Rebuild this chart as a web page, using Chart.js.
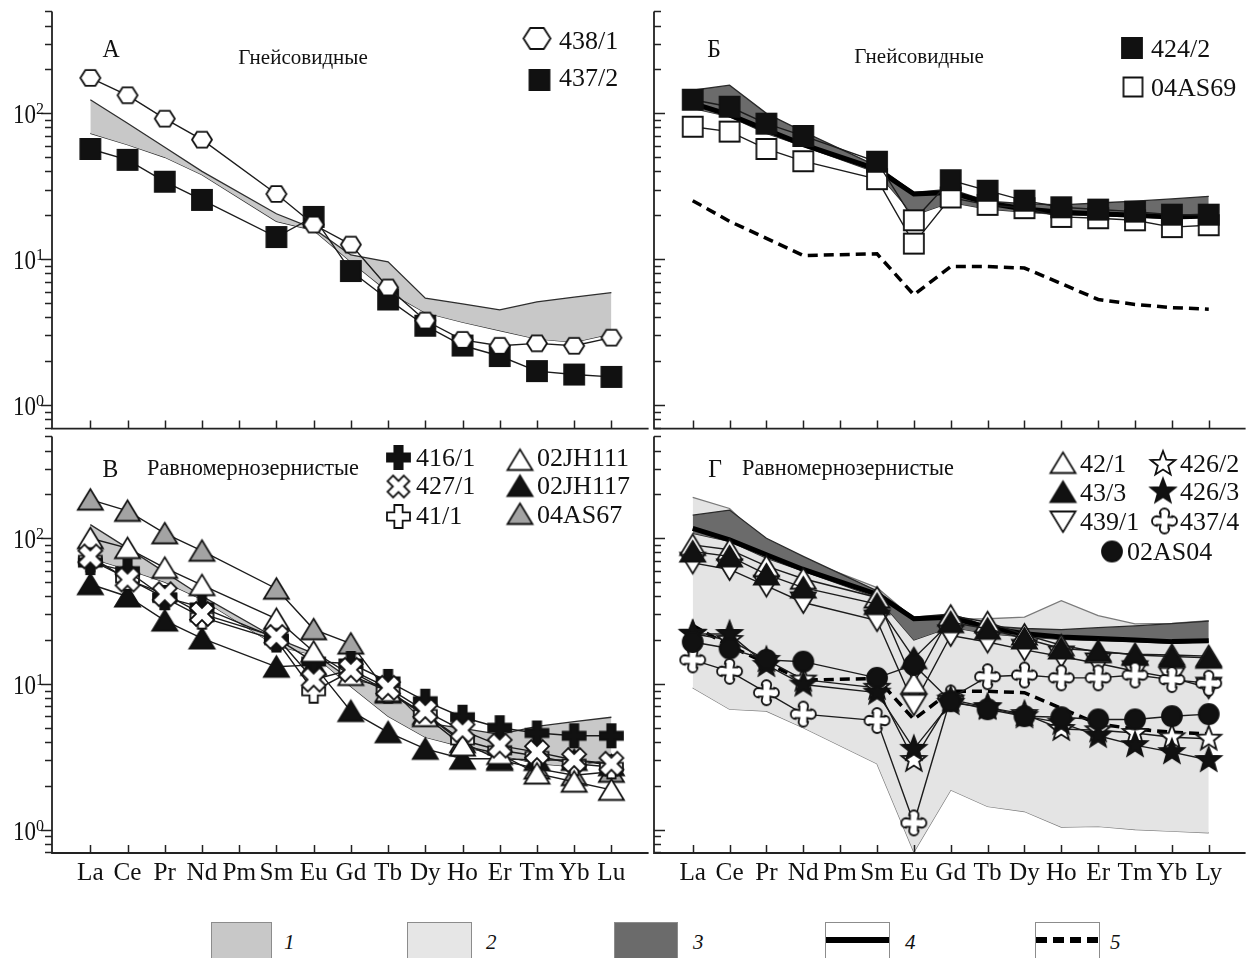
<!DOCTYPE html>
<html>
<head>
<meta charset="utf-8">
<script src="https://cdn.jsdelivr.net/npm/chart.js@4.4.0/dist/chart.umd.min.js"></script>
<style>
  html, body { margin: 0; padding: 0; background: #fff; }
  #wrap { position: relative; width: 1257px; height: 958px; overflow: hidden; }
  #wrap canvas { position: absolute; }
  .key { position: absolute; top: 922px; height: 44px; box-sizing: border-box; border: 1.5px solid #8c8c8c; }
  .key i { position: absolute; left: 0; right: 0; top: 13.5px; height: 6px; }
  .bar { background: #000; }
  .dash { background: repeating-linear-gradient(90deg, #000 0 11px, transparent 11px 17px); }
  .num { position: absolute; top: 932px; font: italic 21px "Liberation Serif", serif; line-height: 20px; color: #111; }
</style>
</head>
<body>
<div id="wrap">
  <canvas id="pA" width="660" height="440" style="left:0;top:0"></canvas>
  <canvas id="pB" width="617" height="440" style="left:640px;top:0"></canvas>
  <canvas id="pC" width="660" height="475" style="left:0;top:425px"></canvas>
  <canvas id="pD" width="617" height="475" style="left:640px;top:425px"></canvas>

  <div class="key" style="left:211px;width:61px;background:#c8c8c8"></div><span class="num" style="left:284px">1</span>
  <div class="key" style="left:407px;width:65px;background:#e6e6e6"></div><span class="num" style="left:486px">2</span>
  <div class="key" style="left:614px;width:64px;background:#6b6b6b"></div><span class="num" style="left:693px">3</span>
  <div class="key" style="left:825px;width:65px;background:#fff"><i class="bar"></i></div><span class="num" style="left:905px">4</span>
  <div class="key" style="left:1035px;width:65px;background:#fff"><i class="dash"></i></div><span class="num" style="left:1110px">5</span>
</div>

<script>
// chondrite-normalised REE, Pm not analysed
const REE   = ['La', 'Ce', 'Pr', 'Nd', 'Pm', 'Sm', 'Eu', 'Gd', 'Tb', 'Dy', 'Ho', 'Er', 'Tm', 'Yb', 'Lu'];
const REE_D = ['La', 'Ce', 'Pr', 'Nd', 'Pm', 'Sm', 'Eu', 'Gd', 'Tb', 'Dy', 'Ho', 'Er', 'Tm', 'Yb', 'Ly'];

// panel А
const s438_1 = [175, 133, 92, 66, null, 28, 17.3, 12.6, 6.4, 3.8, 2.8, 2.55, 2.65, 2.55, 2.9];
const s437_2 = [57, 48, 34, 25.5, null, 14.2, 19.5, 8.3, 5.3, 3.5, 2.56, 2.17, 1.71, 1.62, 1.56];
// field 1 (used in А and В)
const field1Hi = [124, 85.5, 58.5, 40, null, 20.5, 16.2, 10.7, 9.6, 5.4, 4.95, 4.5, 5.1, 5.5, 5.9];
const field1Lo = [73, 61, 50, 38, null, 18.2, 15.8, 9.6, 6.0, 4.3, 3.7, 3.24, 2.84, 2.7, 3.08];

// panel Б
const s424_2  = [124, 111, 85, 70, null, 46.6, 18.5, 34.8, 29.5, 25.2, 22.7, 21.9, 21.2, 20.2, 20.2];
const s04AS69 = [81, 75, 57, 47, null, 35.4, 12.8, 26.5, 23.6, 22.4, 19.5, 19.1, 18.5, 16.6, 17.1];
// field 3, average 4 and average 5 (used in Б and Г)
const field3Hi = [144, 156, 100, 75, null, 43.5, 28.7, 30.2, 25, 24, 23.6, 24.3, 25, 25.9, 27];
const field3Lo = [108, 95, 73, 59.5, null, 39.3, 20, 24.5, 22.1, 21, 20.2, 19.8, 19.5, 19, 19.5];
const avg4 = [117, 97.5, 77, 61, null, 41.3, 28, 28.7, 24.3, 22.1, 21, 20.5, 20, 19.5, 19.8];
const avg5 = [25.2, 18.2, 13.9, 10.6, null, 10.9, 5.7, 8.9, 8.9, 8.7, 6.8, 5.3, 4.9, 4.66, 4.54];

// panel В
const s416_1   = [68, 59.4, 39.2, 33.5, null, 20.5, 14.2, 13.8, 10.4, 7.6, 5.9, 5.0, 4.6, 4.4, 4.4];
const s427_1   = [75, 52, 41.3, 30.2, null, 21, 10.7, 12.5, 9.4, 6.5, 4.8, 3.77, 3.4, 3.0, 2.83];
const s41_1    = [71, 53, 39, 28.7, null, 20, 8.9, 12.2, 8.9, 6.2, 4.1, 3.5, 3.2, 2.83, 2.69];
const s02JH111 = [100, 85.5, 62.6, 47.6, null, 27.9, 16.6, 11.5, 8.9, 6.0, 3.77, 3.3, 2.42, 2.13, 1.87];
const s02JH117 = [48.3, 39.8, 27.2, 20.5, null, 13.1, 13.5, 6.5, 4.65, 3.58, 3.06, 3.06, 3.0, 3.0, 2.76];
const s04AS67  = [184, 154, 108, 82, null, 45, 23.7, 18.9, 8.7, 6.2, 3.97, 3.0, 2.62, 2.36, 2.49];

// panel Г
const s42_1   = [90, 83.4, 64.3, 52.7, null, 39.2, 10.1, 29.4, 26.5, 21.8, 18.4, 16.5, 16, 15.8, 15.5];
const s43_3   = [81, 75, 56.4, 45.8, null, 35.3, 15, 26.5, 23.9, 20.5, 17.5, 16.8, 15.8, 15.4, 15.1];
const s439_1  = [67.7, 61, 47, 36.2, null, 27.2, 7.2, 21.5, 19.4, 17.1, 15.4, 13.8, 12.2, 11, 9.4];
const s426_2  = [22.1, 20, 14.6, 10.7, null, 9.4, 3.0, 7.8, 6.9, 6.2, 4.9, 4.8, 4.6, 4.3, 4.2];
const s426_3  = [22, 22, 13.5, 9.9, null, 8.7, 3.58, 7.4, 6.9, 6.0, 5.4, 4.4, 3.8, 3.4, 3.0];
const s437_4  = [14.6, 12.2, 8.7, 6.2, null, 5.6, 1.11, 8.0, 11.2, 11.5, 11, 11, 11.5, 10.7, 10.1];
const s02AS04 = [19.4, 17.5, 14.6, 14.2, null, 11, 13.5, 7.6, 6.7, 6.0, 5.9, 5.7, 5.7, 6.0, 6.2];
// field 2
const field2Hi = [191, 160, 92.5, 72, null, 45.8, 28, 27.9, 28, 28.7, 37.2, 29.4, 25.8, 26, 27.2];
const field2Lo = [9.4, 6.7, 6.5, 5.0, null, 2.83, 0.7, 1.87, 1.44, 1.33, 1.04, 1.05, 1.0, 0.975, 0.95];

const INK = '#111';
const WHITE = '#fff';
const GREY_TRI = '#a3a3a3';

// symbol sprites used as point styles
function marker(kind, fill, size) {
  const c = document.createElement('canvas');
  const n = Math.ceil(size) + 8;
  c.width = c.height = n;
  const g = c.getContext('2d');
  const r = size / 2;
  g.translate(n / 2, n / 2);
  g.fillStyle = fill;
  g.strokeStyle = INK;
  g.lineWidth = 1.8;
  g.lineJoin = 'miter';
  g.beginPath();
  if (kind === 'hex') {
    for (let k = 0; k < 6; k++) {
      const t = k * Math.PI / 3;
      g.lineTo(r * Math.cos(t), r * 0.9 * Math.sin(t));
    }
  } else if (kind === 'square') {
    g.rect(-r, -r, 2 * r, 2 * r);
  } else if (kind === 'tri' || kind === 'triDown') {
    const s = kind === 'tri' ? 1 : -1;
    g.moveTo(0, -s * r * 0.85);
    g.lineTo(r, s * r * 0.8);
    g.lineTo(-r, s * r * 0.8);
  } else if (kind === 'star') {
    for (let k = 0; k < 10; k++) {
      const t = -Math.PI / 2 + k * Math.PI / 5;
      const rr = k % 2 ? r * 0.42 : r;
      g.lineTo(rr * Math.cos(t), rr * Math.sin(t));
    }
  } else if (kind === 'plus' || kind === 'cross') {
    if (kind === 'cross') g.rotate(Math.PI / 4);
    const w = r * 0.36, L = kind === 'cross' ? r * 1.05 : r;
    [[-w, -L], [w, -L], [w, -w], [L, -w], [L, w], [w, w], [w, L], [-w, L], [-w, w], [-L, w], [-L, -w], [-w, -w]]
      .forEach(([a, b]) => g.lineTo(a, b));
  } else if (kind === 'lobe') {
    // plus with rounded, slightly swollen arm ends
    const a = r * 0.38, w = a * 0.82, L = r;
    g.moveTo(-w, -w);
    g.lineTo(-w, -L + a); g.arc(0, -L + a, a, Math.PI, 0);
    g.lineTo(w, -w);
    g.lineTo(L - a, -w); g.arc(L - a, 0, a, -Math.PI / 2, Math.PI / 2);
    g.lineTo(w, w);
    g.lineTo(w, L - a); g.arc(0, L - a, a, 0, Math.PI);
    g.lineTo(-w, w);
    g.lineTo(-L + a, w); g.arc(-L + a, 0, a, Math.PI / 2, Math.PI * 1.5);
  } else if (kind === 'circle') {
    g.arc(0, 0, r, 0, Math.PI * 2);
  }
  g.closePath();
  g.fill();
  g.stroke();
  return c;
}

const M = {
  hex: marker('hex', WHITE, 20),       hexL: marker('hex', WHITE, 27),
  sq: marker('square', INK, 20),       sqL: marker('square', INK, 20),
  sqOpen: marker('square', WHITE, 20), sqOpenL: marker('square', WHITE, 19),
  plus: marker('plus', INK, 23),       plusL: marker('plus', INK, 23),
  cross: marker('cross', WHITE, 24),   crossL: marker('cross', WHITE, 22),
  plusOpen: marker('plus', WHITE, 23), plusOpenL: marker('plus', WHITE, 23),
  triOpen: marker('tri', WHITE, 25),   triFill: marker('tri', INK, 25),
  triGrey: marker('tri', GREY_TRI, 25), triDown: marker('triDown', WHITE, 25),
  starOpen: marker('star', WHITE, 26), starFill: marker('star', INK, 26),
  lobe: marker('lobe', WHITE, 25),     circle: marker('circle', INK, 20)
};

const pts = arr => arr.map((v, i) => ({ x: i, y: v }));

function series(label, vals, style) {
  return {
    label, data: pts(vals), pointStyle: style, pointRadius: 10,
    borderColor: '#1c1c1c', borderWidth: 1.4, spanGaps: true, fill: false, order: 1, clip: false
  };
}
function field(hi, lo, colour, edge, order) {
  const base = { pointRadius: 0, borderColor: edge, borderWidth: 1.3, spanGaps: true, order, clip: false };
  return [
    Object.assign({ label: 'hi', data: pts(hi), fill: '+1', backgroundColor: colour }, base),
    Object.assign({ label: 'lo', data: pts(lo), fill: false }, base)
  ];
}
function average(vals, width, dash) {
  return {
    label: 'avg', data: pts(vals), pointRadius: 0, borderColor: '#000', borderWidth: width,
    borderDash: dash, spanGaps: true, fill: false, order: 3, clip: false
  };
}

function txt(ctx, s, x, y, size, align, sx, style) {
  ctx.save();
  ctx.translate(x, y);
  ctx.scale(sx || 1, 1);
  ctx.font = (style || '') + size + 'px "Liberation Serif", serif';
  ctx.textAlign = align;
  ctx.textBaseline = 'alphabetic';
  ctx.fillStyle = INK;
  ctx.fillText(s, 0, 0);
  ctx.restore();
}

// axes, ticks and annotations drawn from the chart's own scales
const frame = {
  id: 'frame',
  afterDraw(chart, args, o) {
    const { ctx, chartArea: a, scales: { x, y } } = chart;
    ctx.save();
    ctx.strokeStyle = '#222';
    ctx.lineWidth = 1.8;
    ctx.beginPath();
    ctx.moveTo(a.left, a.top);
    ctx.lineTo(a.left, a.bottom);
    ctx.lineTo(a.right, a.bottom);
    ctx.stroke();

    const dir = o.inner ? 1 : -1;
    ctx.lineWidth = 1.5;
    ctx.beginPath();
    const e0 = Math.floor(Math.log10(y.min)), e1 = Math.ceil(Math.log10(y.max));
    for (let e = e0; e <= e1; e++) {
      for (let s = 1; s <= 9; s++) {
        const v = s * Math.pow(10, e);
        if (v < y.min || v > y.max * 1.0001) continue;
        const py = Math.round(y.getPixelForValue(v)) + 0.5;
        const len = s === 1 ? 11 : 7;
        ctx.moveTo(a.left, py);
        ctx.lineTo(a.left + dir * len, py);
      }
    }
    for (let i = 0; i < 15; i++) {
      const px = Math.round(x.getPixelForValue(i)) + 0.5;
      ctx.moveTo(px, a.bottom);
      ctx.lineTo(px, a.bottom - 8);
    }
    ctx.stroke();

    if (o.yLabels) {
      [0, 1, 2].forEach(e => {
        const py = y.getPixelForValue(Math.pow(10, e));
        txt(ctx, '10', a.left - 16, py + 10, 28, 'right', 0.82);
        txt(ctx, String(e), a.left - 16, py + 1, 16, 'left', 1);
      });
    }
    if (o.names) {
      o.names.forEach((n, i) => txt(ctx, n, x.getPixelForValue(i), a.bottom + 27, 26, 'center', 0.97));
    }

    const ox = o.ox, oy = o.oy;
    txt(ctx, o.letter[0], o.letter[1] - ox, o.letter[2] - oy, 25, 'center', 0.95);
    txt(ctx, o.title[0], o.title[1] - ox, o.title[2] - oy, o.title[4], o.title[3], 1);
    o.legend.forEach(([m, mx, my, label, tx, ty]) => {
      ctx.drawImage(m, mx - ox - m.width / 2, my - oy - m.height / 2);
      txt(ctx, label, tx - ox, ty - oy + 8.8, 26, 'left', 1);
    });
    ctx.restore();
  }
};

function panel(id, datasets, xmin, pad, frameOpts) {
  return new Chart(document.getElementById(id), {
    type: 'line',
    data: { datasets },
    options: {
      responsive: false,
      animation: false,
      events: [],
      devicePixelRatio: 1,
      layout: { padding: pad },
      elements: { line: { tension: 0 } },
      scales: {
        x: { type: 'linear', display: false, min: xmin, max: 15, bounds: 'data' },
        y: { type: 'logarithmic', display: false, min: 0.69, max: 500 }
      },
      plugins: { legend: { display: false }, tooltip: { enabled: false }, frame: frameOpts }
    },
    plugins: [frame]
  });
}

const TITLE_G = 'Гнейсовидные';
const TITLE_R = 'Равномернозернистые';

panel('pA', [
  series('438/1', s438_1, M.hex),
  series('437/2', s437_2, M.sq),
  ...field(field1Hi, field1Lo, '#c8c8c8', '#2e2e2e', 4)
], -1.03, { left: 52, top: 11, right: 6, bottom: 7 }, {
  ox: 0, oy: 0, inner: false, yLabels: true, names: null,
  letter: ['А', 111, 57], title: [TITLE_G, 303, 64, 'center', 21],
  legend: [
    [M.hexL, 537, 38.5, '438/1', 559, 40],
    [M.sqL, 539.5, 80, '437/2', 559, 77]
  ]
});

const s424_2Style = REE.map((n, i) => i === 6 ? M.sqOpen : M.sq);

panel('pB', [
  series('424/2', s424_2, s424_2Style),
  series('04AS69', s04AS69, M.sqOpen),
  average(avg4, 5, []),
  average(avg5, 3.5, [10, 6]),
  ...field(field3Hi, field3Lo, '#6b6b6b', '#2a2a2a', 5)
], -1.05, { left: 14, top: 11, right: 0, bottom: 7 }, {
  ox: 640, oy: 0, inner: true, yLabels: false, names: null,
  letter: ['Б', 714, 57], title: [TITLE_G, 919, 63, 'center', 21],
  legend: [
    [M.sqL, 1132, 48, '424/2', 1151, 48],
    [M.sqOpenL, 1133, 87, '04AS69', 1151, 87]
  ]
});

panel('pC', [
  series('427/1', s427_1, M.cross),
  series('02JH111', s02JH111, M.triOpen),
  series('416/1', s416_1, M.plus),
  series('41/1', s41_1, M.plusOpen),
  series('02JH117', s02JH117, M.triFill),
  series('04AS67', s04AS67, M.triGrey),
  ...field(field1Hi, field1Lo, '#c8c8c8', '#2e2e2e', 4)
], -1.03, { left: 52, top: 8, right: 6, bottom: 47 }, {
  ox: 0, oy: 425, inner: false, yLabels: true, names: REE,
  letter: ['В', 110.5, 477], title: [TITLE_R, 147, 475, 'left', 22.3],
  legend: [
    [M.plusL, 398.5, 457.5, '416/1', 416, 457],
    [M.crossL, 398.5, 486.5, '427/1', 416, 485],
    [M.plusOpenL, 398.5, 516.5, '41/1', 416, 515.5],
    [M.triOpen, 520, 460, '02JH111', 537, 457],
    [M.triFill, 520, 486, '02JH117', 537, 485],
    [M.triGrey, 520, 514, '04AS67', 537, 514]
  ]
});

panel('pD', [
  series('02AS04', s02AS04, M.circle),
  series('426/3', s426_3, M.starFill),
  series('426/2', s426_2, M.starOpen),
  series('437/4', s437_4, M.lobe),
  series('43/3', s43_3, M.triFill),
  series('42/1', s42_1, M.triOpen),
  series('439/1', s439_1, M.triDown),
  average(avg4, 5, []),
  average(avg5, 3.5, [10, 6]),
  ...field(field3Hi, field3Lo, '#6b6b6b', '#2a2a2a', 5),
  ...field(field2Hi, field2Lo, '#e4e4e4', '#7a7a7a', 6)
], -1.05, { left: 14, top: 8, right: 0, bottom: 47 }, {
  ox: 640, oy: 425, inner: true, yLabels: false, names: REE_D,
  letter: ['Г', 715, 477], title: [TITLE_R, 742, 475, 'left', 22.3],
  legend: [
    [M.triOpen, 1063, 463, '42/1', 1080, 463],
    [M.triFill, 1063, 492, '43/3', 1080, 492],
    [M.triDown, 1063, 521.5, '439/1', 1080, 521.5],
    [M.circle, 1112, 551.5, '02AS04', 1127, 551.5],
    [M.starOpen, 1163, 464, '426/2', 1180, 463],
    [M.starFill, 1163, 491.5, '426/3', 1180, 491.5],
    [M.lobe, 1164.5, 521, '437/4', 1180, 521]
  ]
});
</script>
</body>
</html>
